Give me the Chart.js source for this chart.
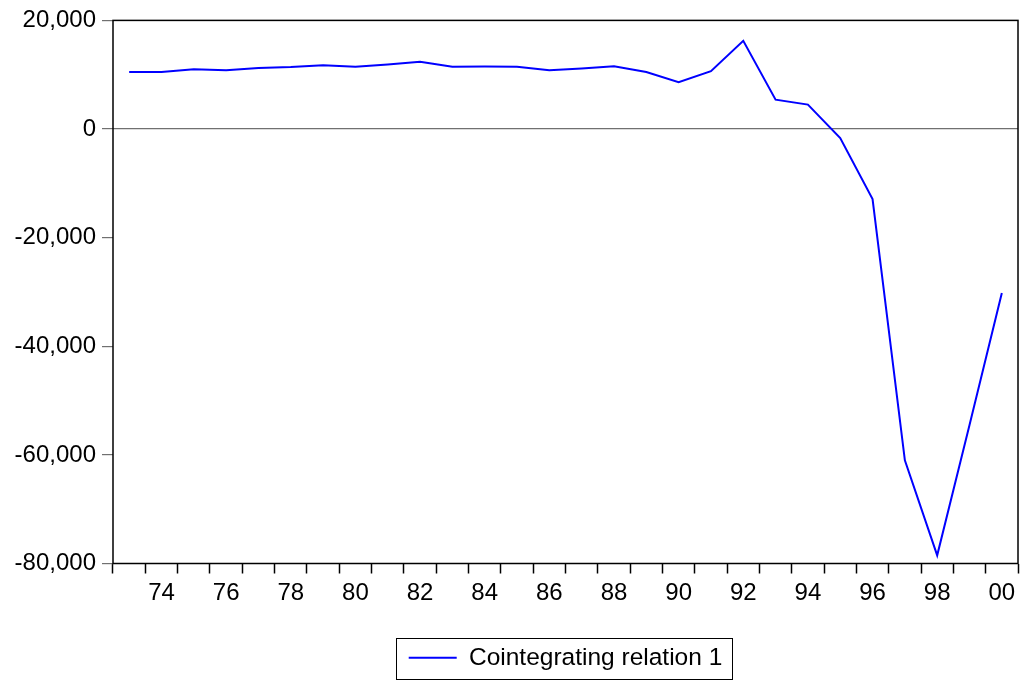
<!DOCTYPE html>
<html>
<head>
<meta charset="utf-8">
<script src="https://cdn.jsdelivr.net/npm/chart.js@4.4.0/dist/chart.umd.min.js"></script>
<style>
    html, body { margin: 0; padding: 0; background: #fff; }
    #wrap { width: 1023px; height: 680px; }
</style>
</head>
<body>
<div id="wrap"><canvas id="chart" width="1023" height="680"></canvas></div>
<script>
// years of the sample, 1973 - 2000
const years = [1973, 1974, 1975, 1976, 1977, 1978, 1979, 1980, 1981, 1982,
    1983, 1984, 1985, 1986, 1987, 1988, 1989, 1990, 1991, 1992,
    1993, 1994, 1995, 1996, 1997, 1998, 1999, 2000];

// cointegrating relation values
const relation1 = [10500, 10500, 11000, 10800, 11250, 11400, 11750, 11450, 11900, 12400,
    11450, 11500, 11450, 10800, 11150, 11550, 10500, 8600, 10650, 16250,
    5400, 4500, -1650, -12900, -61000, -78500, -54500, -30200];

const yTicks = [-80000, -60000, -40000, -20000, 0, 20000];

const fontFamily = "'Liberation Sans', Arial, sans-serif";

// box around plot area and legend
const framePlugin = {
    id: 'frame',
    afterDraw(chart) {
        const ctx = chart.ctx;
        const a = chart.chartArea;
        ctx.save();
        ctx.strokeStyle = '#000';
        ctx.lineWidth = 1.5;
        ctx.strokeRect(a.left, a.top, a.right - a.left, a.bottom - a.top);

        const hb = chart.legend.legendHitBoxes[0];
        if (hb) {
            ctx.lineWidth = 1;
            ctx.strokeRect(Math.round(hb.left - 13) + 0.5, Math.round(hb.top - 8) + 0.5,
                Math.round(hb.width + 22), Math.round(hb.height + 16));
        }
        ctx.restore();
    },
};

const ctx = document.getElementById('chart').getContext('2d');
new Chart(ctx, {
    type: 'line',
    data: {
        labels: years,
        datasets: [{
            label: 'Cointegrating relation 1',
            data: relation1,
            borderColor: '#0000ff',
            borderWidth: 2,
            pointRadius: 0,
            tension: 0,
            fill: false,
        }],
    },
    options: {
        responsive: false,
        animation: false,
        layout: {
            padding: { top: 20, right: 5, left: 0, bottom: 0 },
        },
        plugins: {
            tooltip: { enabled: false },
            legend: {
                position: 'bottom',
                fullSize: false,
                labels: {
                    font: { family: fontFamily, size: 24.5 },
                    color: '#000',
                    boxWidth: 48,
                    boxHeight: 2,
                    padding: 10,
                    generateLabels: (chart) => chart.data.datasets.map((ds, i) => ({
                        text: ds.label,
                        fillStyle: ds.borderColor,
                        strokeStyle: ds.borderColor,
                        lineWidth: 0,
                        datasetIndex: i,
                    })),
                },
            },
        },
        scales: {
            x: {
                type: 'category',
                offset: true,
                grid: {
                    offset: true,
                    drawOnChartArea: false,
                    drawTicks: true,
                    tickLength: 10,
                    tickColor: '#000',
                    tickWidth: 1.5,
                },
                border: { display: false },
                ticks: {
                    autoSkip: false,
                    maxRotation: 0,
                    padding: 5,
                    color: '#000',
                    font: { family: fontFamily, size: 24 },
                    callback: (value, index) => (years[index] % 2 === 0 ? String(years[index]).slice(2) : ''),
                },
                afterFit: (scale) => { scale.height = 72; },
            },
            y: {
                min: -80000,
                max: 20000,
                afterBuildTicks: (scale) => { scale.ticks = yTicks.map((v) => ({ value: v })); },
                grid: {
                    drawOnChartArea: true,
                    color: (c) => (c.tick && c.tick.value === 0 ? '#707070' : 'rgba(0,0,0,0)'),
                    lineWidth: 1.2,
                    tickLength: 11,
                    tickColor: '#707070',
                },
                border: { display: false },
                ticks: {
                    padding: 6,
                    color: '#000',
                    font: { family: fontFamily, size: 24 },
                    callback: (value) => value.toLocaleString('en-US'),
                },
                afterFit: (scale) => { scale.width = 113; },
            },
        },
    },
    plugins: [framePlugin],
});
</script>
</body>
</html>
